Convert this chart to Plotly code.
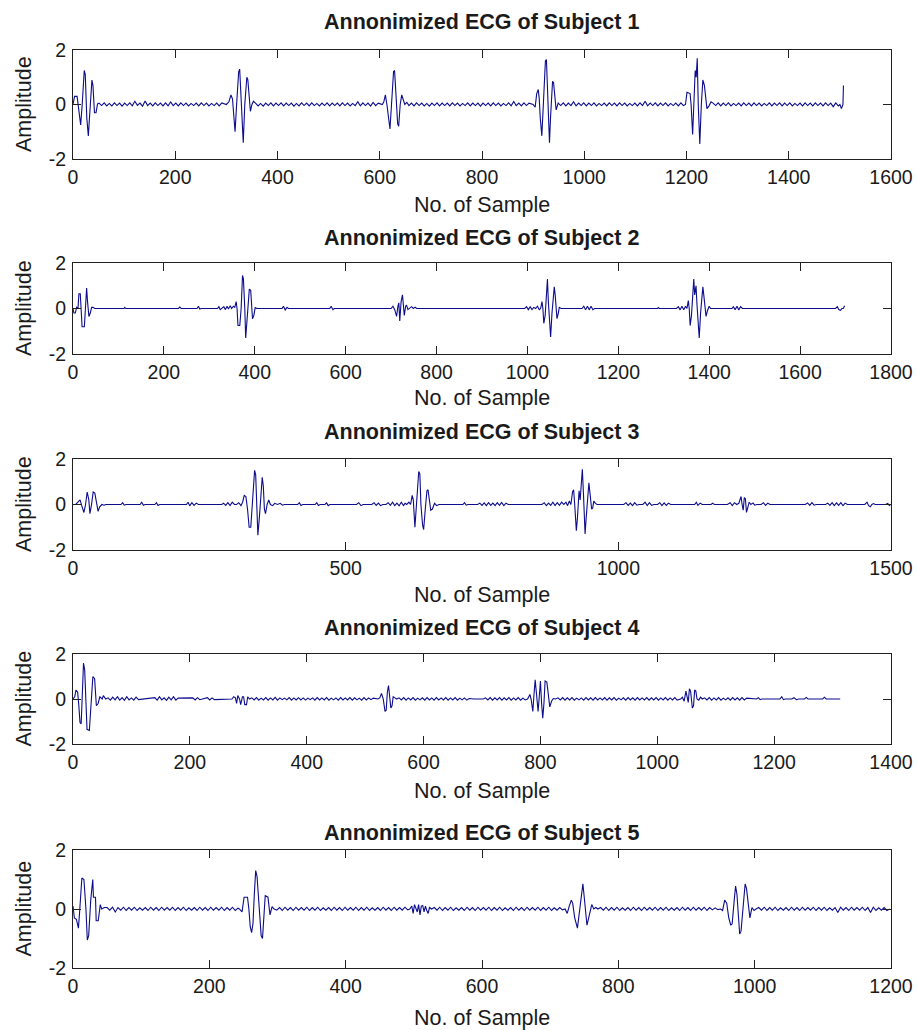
import plotly.graph_objects as go

# ---------------- data ----------------
subject_titles = [
    "Annonimized ECG of Subject 1",
    "Annonimized ECG of Subject 2",
    "Annonimized ECG of Subject 3",
    "Annonimized ECG of Subject 4",
    "Annonimized ECG of Subject 5",
]
x_limits = [1600, 1800, 1500, 1400, 1200]
x_tickvals = [
    [0, 200, 400, 600, 800, 1000, 1200, 1400, 1600],
    [0, 200, 400, 600, 800, 1000, 1200, 1400, 1600, 1800],
    [0, 500, 1000, 1500],
    [0, 200, 400, 600, 800, 1000, 1200, 1400],
    [0, 200, 400, 600, 800, 1000, 1200],
]
y_tickvals = [-2, 0, 2]
y_ticktext = ["-2", "0", "2"]

# Waveform vertices (sample, amplitude) for the beats and isolated deflections
s1_beats = [
    (0, 0.0), (3, 0.3), (8, 0.3), (11, -0.1), (15, -0.75), (18, 0.0), (22, 1.25), (24, 1.1),
    (27, -0.5), (30, -1.15), (33, -0.2), (37, 0.9), (39, 0.7), (42, -0.3), (45, -0.3), (48, 0.02),
    (300, 0.0), (305, 0.1), (309, 0.35), (312, 0.2), (315, -0.6), (317, -1.0), (320, 0.0), (324, 1.2),
    (326, 1.3), (329, 0.0), (331, -1.0), (333, -1.4), (336, 0.0), (340, 1.0), (342, 0.9), (345, 0.0),
    (347, -0.25), (350, 0.0), (353, 0.12),
    (605, 0.0), (608, 0.1), (611, 0.35), (614, 0.0), (618, -0.6), (620, -0.9), (623, 0.0), (627, 1.2),
    (629, 1.25), (632, 0.0), (635, -0.7), (637, -0.8), (640, 0.0), (643, 0.35), (646, 0.15), (649, 0.0),
    (653, 0.08),
    (900, 0.0), (904, -0.1), (907, 0.4), (910, 0.55), (912, 0.2), (914, -0.5), (917, -1.15), (920, 0.0),
    (924, 1.6), (926, 1.65), (929, 0.0), (932, -1.4), (934, -0.5), (938, 0.85), (940, 0.8), (943, 0.0),
    (945, -0.2),
    (1198, 0.0), (1201, 0.45), (1207, 0.4), (1209, 0.0), (1212, -1.1), (1214, 0.0), (1217, 1.25),
    (1219, 1.0), (1221, 1.7), (1223, 0.0), (1226, -1.45), (1229, 0.0), (1232, 0.9), (1235, 0.7),
    (1238, 0.0), (1240, -0.15), (1244, -0.05), (1248, 0.1),
    (1500, 0.0), (1503, -0.15), (1506, 0.0), (1507, 0.7),
]
# Baseline ripple: (first sample, sample spacing, amplitudes)
s1_ripple = [
    (51, 5, [0.05, -0.04, 0.06, -0.05, 0.04, -0.05, 0.06, -0.04, 0.05, -0.06,
             0.05, -0.04, 0.06, -0.05, 0.12, -0.03, 0.05, -0.06, 0.13, -0.04,
             0.05, -0.05, 0.06, -0.04, 0.05, -0.05, 0.06, -0.05, 0.09, -0.04,
             0.05, -0.05, 0.06, -0.04, 0.05, -0.05, 0.04, -0.04, 0.05, -0.05,
             0.06, -0.04, 0.05, -0.05, 0.04, -0.04, 0.05, -0.05, 0.06]),
    (357, 5, [0.05, -0.05, 0.04, -0.06, 0.05, -0.04, 0.06, -0.05, 0.05, -0.04,
              0.06, -0.05, 0.05, -0.04, 0.05, -0.06, 0.04, -0.05, 0.06, -0.04,
              0.05, -0.05, 0.06, -0.04, 0.04, -0.05, 0.05, -0.04, 0.06, -0.05,
              0.05, -0.04, 0.05, -0.05, 0.06, -0.04, 0.05, -0.05, 0.04, -0.04,
              0.10, -0.05, 0.06, -0.04, 0.05, -0.06, 0.08, -0.04, 0.05]),
    (657, 5, [-0.04, 0.05, -0.05, 0.06, -0.04, 0.05, -0.05, 0.04, -0.06, 0.05,
              -0.04, 0.06, -0.05, 0.05, -0.04, 0.05, -0.05, 0.06, -0.04, 0.05,
              -0.05, 0.04, -0.04, 0.06, -0.05, 0.05, -0.04, 0.05, -0.06, 0.05,
              -0.04, 0.05, -0.05, 0.06, -0.04, 0.05, -0.05, 0.04, -0.04, 0.06,
              -0.05, 0.11, -0.04, 0.05, -0.05, 0.06, -0.04, 0.05]),
    (949, 5, [0.05, -0.04, 0.06, -0.05, 0.05, -0.04, 0.10, -0.05, 0.05, -0.04,
              0.06, -0.05, 0.05, -0.04, 0.06, -0.05, 0.04, -0.04, 0.05, -0.05,
              0.06, -0.04, 0.05, -0.05, 0.06, -0.04, 0.05, -0.05, 0.04, -0.04,
              0.05, -0.05, 0.06, -0.04, 0.12, -0.05, 0.05, -0.04, 0.06, -0.05,
              0.05, -0.04, 0.06, -0.05, 0.04, -0.04, 0.05, -0.05, 0.06, -0.04]),
    (1252, 5, [0.05, -0.04, 0.06, -0.05, 0.05, -0.04, 0.06, -0.05, 0.04, -0.04,
               0.05, -0.05, 0.06, -0.04, 0.05, -0.05, 0.06, -0.04, 0.05, -0.05,
               0.04, -0.04, 0.06, -0.05, 0.05, -0.04, 0.06, -0.05, 0.05, -0.04,
               0.06, -0.05, 0.04, -0.04, 0.05, -0.05, 0.06, -0.04, 0.05, -0.05,
               0.06, -0.04, 0.05, -0.05, 0.06, -0.04, 0.05, -0.08, 0.06, -0.05]),
]

s2_beats = [
    (0, 0.0), (2, -0.2), (5, -0.2), (8, 0.05), (11, 0.0), (13, 0.65), (16, 0.65), (18, 0.0),
    (20, -0.8), (25, -0.8), (28, 0.0), (30, 0.9), (32, 0.3), (35, -0.35), (38, -0.2), (41, 0.05),
    (44, 0.05), (48, 0.0),
    (112, 0.0), (114, 0.05), (116, 0.0),
    (232, 0.0), (235, 0.06), (238, 0.0),
    (273, 0.0), (276, 0.1), (279, -0.02), (282, 0.0),
    (318, 0.0), (321, 0.08), (324, -0.05), (328, 0.0), (332, 0.08), (335, -0.05), (339, 0.1),
    (342, -0.02), (346, 0.12), (349, 0.0),
    (353, 0.1), (356, 0.05), (359, 0.3), (361, 0.0), (363, -0.75), (367, -0.75), (370, 0.0),
    (373, 1.45), (375, 1.3), (378, 0.0), (380, -1.3), (383, -0.5), (386, 0.5), (388, 0.85),
    (391, 0.8), (393, 0.0), (395, -0.45), (398, -0.3), (401, 0.05), (404, 0.0),
    (460, 0.0), (463, 0.1), (467, -0.06), (471, 0.05), (474, 0.0),
    (565, 0.0), (568, 0.1), (572, -0.05), (575, 0.0),
    (700, 0.0), (704, 0.1), (708, -0.05), (712, -0.35), (715, 0.1), (717, 0.25), (719, -0.55),
    (722, 0.3), (725, 0.6), (727, 0.1), (729, -0.3), (732, 0.1), (734, 0.15), (737, -0.05),
    (741, 0.0), (745, 0.08), (749, 0.0), (753, 0.06), (756, 0.0),
    (994, 0.0), (998, 0.08), (1002, -0.05), (1006, 0.08), (1010, -0.05), (1014, 0.05), (1018, 0.0),
    (1022, 0.1), (1026, -0.05), (1029, 0.0), (1032, 0.3), (1034, 0.0), (1036, -0.65), (1039, -0.3),
    (1041, 0.3), (1044, 1.3), (1046, 0.3), (1049, -0.8), (1051, -1.25), (1054, -0.2), (1057, 0.7),
    (1059, 0.95), (1061, 0.6), (1063, -0.1), (1065, -0.45), (1068, -0.2), (1070, 0.05), (1074, 0.0),
    (1120, 0.0), (1124, 0.1), (1128, -0.06), (1132, 0.1), (1136, -0.06), (1140, 0.1), (1144, -0.05),
    (1148, 0.0),
    (1286, 0.0), (1288, 0.04), (1290, 0.0),
    (1328, 0.0), (1332, 0.08), (1336, -0.06), (1340, 0.1), (1344, -0.05), (1348, 0.1), (1351, 0.0),
    (1354, 0.35), (1356, 0.0), (1358, -0.75), (1361, -0.3), (1364, 0.5), (1366, 1.3), (1368, 0.6),
    (1371, 1.0), (1373, 0.2), (1376, -0.9), (1378, -1.3), (1381, -0.2), (1384, 0.6), (1386, 0.95),
    (1388, 0.6), (1391, -0.2), (1393, -0.35), (1396, -0.1), (1400, 0.1), (1403, 0.0),
    (1450, 0.0), (1453, 0.08), (1457, -0.05), (1461, 0.1), (1465, -0.06), (1469, 0.08), (1473, 0.0),
    (1678, 0.0), (1682, 0.08), (1685, -0.05), (1689, -0.08), (1692, 0.0), (1695, 0.0), (1698, 0.12),
]
s2_ripple = []

s3_beats = [
    (0, 0.0), (5, 0.0), (9, 0.1), (13, 0.2), (16, -0.05), (20, -0.35), (23, 0.0), (26, 0.55),
    (29, 0.2), (31, -0.4), (34, 0.0), (37, 0.55), (40, 0.5), (43, 0.0), (46, -0.3), (49, -0.1),
    (53, 0.0), (57, -0.03), (60, 0.0),
    (88, 0.0), (91, 0.08), (94, -0.03), (97, 0.0),
    (123, 0.0), (126, 0.1), (129, -0.03), (132, 0.0),
    (150, 0.0), (153, 0.08), (156, -0.04), (159, 0.0),
    (208, 0.0), (211, 0.1), (214, -0.06), (218, 0.08), (222, -0.04), (226, 0.06), (230, 0.0),
    (273, 0.0), (276, 0.06), (280, -0.04), (284, 0.08), (288, -0.05), (292, 0.1), (296, 0.0),
    (300, 0.0), (304, 0.08), (308, -0.05), (311, 0.1), (314, 0.4), (317, 0.35), (320, -0.2),
    (323, -1.0), (326, -1.0), (329, 0.0), (333, 1.5), (335, 1.3), (337, 0.0), (339, -1.35),
    (342, -0.5), (345, 0.6), (347, 1.2), (349, 0.8), (351, -0.2), (353, -0.4), (356, 0.0),
    (359, 0.2), (362, 0.0), (366, -0.05), (370, 0.05), (375, 0.0),
    (380, 0.05), (384, -0.03), (388, 0.0),
    (412, 0.0), (415, 0.08), (418, -0.04), (421, 0.0),
    (444, 0.0), (447, 0.08), (450, -0.04), (453, 0.0),
    (462, 0.0), (465, 0.07), (468, -0.05), (471, 0.0),
    (520, 0.0), (524, 0.08), (528, -0.05), (532, 0.0),
    (548, 0.0), (552, 0.08), (556, -0.04), (560, 0.06), (564, -0.05), (568, 0.0),
    (574, 0.0), (578, 0.08), (582, -0.04), (586, 0.1), (590, -0.05), (594, 0.06), (598, -0.06),
    (602, 0.1), (606, -0.05), (609, 0.05),
    (612, 0.0), (616, 0.1), (619, 0.0), (622, 0.4), (624, 0.2), (627, -1.0), (629, -0.3),
    (632, 0.8), (634, 1.45), (636, 1.35), (638, 0.0), (641, -0.9), (643, -1.1), (646, -0.2),
    (649, 0.6), (651, 0.65), (653, 0.2), (656, -0.25), (659, -0.2), (663, 0.05), (667, -0.05),
    (671, 0.0),
    (715, 0.0), (718, 0.08), (721, -0.03), (724, 0.0),
    (742, 0.0), (746, 0.06), (750, -0.04), (754, 0.07), (758, -0.05), (762, 0.08), (766, -0.04),
    (770, 0.06), (774, -0.05), (778, 0.08), (782, -0.04), (786, 0.09), (790, -0.05), (794, 0.06),
    (798, 0.0),
    (860, 0.0), (864, 0.08), (868, -0.05), (872, 0.06), (876, -0.04), (880, 0.1), (884, -0.05),
    (888, 0.08), (892, -0.04), (896, 0.1),
    (900, 0.0), (904, 0.1), (907, -0.05), (910, 0.15), (913, 0.0), (916, 0.55), (918, 0.65),
    (920, 0.0), (923, -1.15), (925, -0.6), (928, 0.6), (930, 0.2), (932, 0.8), (934, 1.55),
    (936, 0.5), (939, -1.3), (941, -0.6), (944, 0.6), (946, 0.95), (948, 0.5), (951, -0.2),
    (953, -0.15), (955, 0.15), (958, 0.05), (961, 0.0),
    (1010, 0.0), (1014, 0.08), (1018, -0.04), (1022, 0.06), (1026, -0.05), (1030, 0.08),
    (1034, -0.03), (1038, 0.0), (1045, 0.0), (1049, 0.1), (1053, -0.05), (1057, 0.08),
    (1061, -0.04), (1065, 0.0), (1072, 0.0), (1076, 0.08), (1080, -0.05), (1084, 0.07),
    (1088, -0.04), (1092, 0.06), (1096, 0.0),
    (1140, 0.0), (1143, 0.1), (1146, -0.04), (1150, 0.06), (1154, 0.0),
    (1170, 0.0), (1173, 0.06), (1176, 0.0),
    (1200, 0.0), (1205, 0.08), (1209, -0.05), (1213, 0.08), (1217, 0.0), (1221, 0.05),
    (1225, 0.35), (1227, 0.0), (1229, -0.25), (1231, 0.3), (1233, 0.25), (1235, -0.35),
    (1237, -0.1), (1240, 0.1), (1243, 0.0), (1247, 0.07), (1250, -0.03), (1254, 0.0),
    (1262, 0.0), (1266, 0.08), (1270, -0.04), (1274, 0.06), (1278, 0.0),
    (1343, 0.0), (1347, 0.07), (1351, -0.04), (1355, 0.08), (1359, -0.03), (1363, 0.0),
    (1380, 0.0), (1384, 0.06), (1388, -0.04), (1392, 0.08), (1396, -0.05), (1400, 0.07),
    (1404, -0.04), (1408, 0.08), (1412, -0.05), (1416, 0.06), (1420, 0.0),
    (1452, 0.0), (1456, 0.1), (1459, -0.05), (1462, -0.1), (1465, 0.0), (1468, 0.04), (1471, 0.0),
    (1490, 0.0), (1494, 0.05), (1497, -0.04), (1499, 0.0),
]
s3_ripple = []

s4_beats = [
    (0, 0.0), (3, 0.1), (5, 0.4), (8, 0.3), (10, -0.3), (12, -1.05), (14, -1.1), (16, 0.5),
    (18, 1.6), (20, 1.3), (22, 0.0), (24, -1.35), (28, -1.4), (31, 0.0), (34, 1.0), (37, 0.9),
    (40, -0.3), (43, -0.2), (46, 0.1), (50, 0.0), (52, 0.15), (56, 0.0),
    (272, 0.0), (275, 0.1), (278, 0.05), (280, -0.2), (282, 0.15), (285, 0.0), (287, -0.25),
    (290, 0.1), (292, 0.1), (294, -0.25), (297, -0.25), (299, 0.1), (302, 0.0),
    (522, 0.0), (525, 0.05), (528, 0.25), (531, 0.0), (534, -0.55), (536, -0.5), (538, 0.3),
    (540, 0.6), (542, 0.1), (544, -0.4), (546, -0.3), (548, 0.1), (551, 0.05), (554, 0.0),
    (778, 0.0), (782, 0.2), (784, 0.0), (787, -0.55), (789, 0.2), (791, 0.85), (793, 0.3),
    (796, -0.55), (798, 0.1), (800, 0.8), (802, -0.2), (804, -0.85), (806, -0.2), (808, 0.8),
    (811, 0.75), (814, 0.0), (816, -0.35), (819, -0.1), (822, 0.02), (826, 0.0),
    (1040, 0.0), (1043, 0.08), (1046, -0.1), (1049, 0.35), (1051, 0.0), (1053, -0.15),
    (1055, 0.45), (1057, 0.35), (1060, -0.4), (1062, -0.3), (1064, 0.4), (1066, 0.35),
    (1068, 0.0), (1071, -0.05), (1074, 0.08), (1077, 0.0),
    (1170, 0.0), (1173, 0.06), (1176, -0.03), (1179, 0.0), (1210, 0.0), (1213, 0.1),
    (1216, -0.03), (1219, 0.0), (1230, 0.0), (1234, 0.06), (1238, -0.03), (1242, 0.0),
    (1252, 0.0), (1255, 0.07), (1258, 0.0), (1283, 0.0), (1286, 0.08), (1289, 0.0), (1313, 0.0),
]
s4_ripple = [
    (60, 4, [0.05, -0.05, 0.08, -0.04, 0.1, -0.05, 0.06, -0.06, 0.1, -0.04, 0.05, -0.05, 0.08, -0.03]),
    (140, 4, [0.06, -0.05, 0.1, -0.04, 0.05, -0.06, 0.08, -0.04, 0.1, -0.05, 0.04]),
    (205, 4, [0.05, -0.04, 0.06, -0.03]),
    (230, 4, [0.06, -0.04, 0.05, -0.03]),
    (306, 4, [0.05, -0.04, 0.06, -0.05, 0.04, -0.04, 0.06, -0.05, 0.05, -0.04,
              0.07, -0.05, 0.05, -0.03, 0.04, -0.04, 0.06, -0.05, 0.05, -0.04,
              0.06, -0.04, 0.05, -0.05, 0.04, -0.03, 0.05, -0.05, 0.06, -0.04,
              0.05, -0.04, 0.06, -0.05, 0.04, -0.04, 0.05, -0.05, 0.06, -0.04,
              0.05, -0.04, 0.06, -0.05, 0.05, -0.04, 0.04, -0.05, 0.06, -0.04,
              0.05, -0.03, 0.04]),
    (558, 4, [0.05, -0.04, 0.06, -0.05, 0.05, -0.04, 0.06, -0.05, 0.04, -0.04,
              0.05, -0.05, 0.06, -0.04, 0.05, -0.05, 0.06, -0.04, 0.05, -0.04,
              0.06, -0.05, 0.05, -0.04, 0.06, -0.05, 0.04, -0.04, 0.05, -0.05,
              0.02, 0.0, 0.0, 0.0, 0.0, 0.0, 0.0, 0.05, -0.04, 0.06,
              -0.05, 0.05, -0.04, 0.06, -0.05, 0.05, -0.04, 0.06, -0.05, 0.05,
              -0.04, 0.06, -0.05, 0.04, -0.04]),
    (830, 4, [0.05, -0.04, 0.06, -0.05, 0.05, -0.04, 0.06, -0.05, 0.04, -0.04,
              0.05, -0.05, 0.06, -0.04, 0.05, -0.05, 0.06, -0.04, 0.05, -0.04,
              0.06, -0.05, 0.05, -0.04, 0.06, -0.05, 0.04, -0.04, 0.05, -0.05,
              0.06, -0.04, 0.05, -0.05, 0.06, -0.04, 0.05, -0.04, 0.06, -0.05,
              0.05, -0.04, 0.06, -0.05, 0.05, -0.04, 0.06, -0.05, 0.05, -0.04,
              0.06, -0.05]),
    (1081, 4, [0.05, -0.04, 0.06, -0.05, 0.05, -0.04, 0.06, -0.05, 0.04, -0.04,
               0.05, -0.05, 0.06, -0.04, 0.05, -0.05, 0.06, -0.04, 0.04]),
]

s5_beats = [
    (0, 0.1), (2, -0.3), (5, -0.35), (8, -0.65), (10, 0.0), (13, 1.05), (16, 1.0), (19, 0.0),
    (21, -1.05), (23, -0.9), (26, 0.3), (29, 1.0), (30, 0.4), (33, 0.4), (34, -0.4), (37, -0.4),
    (40, 0.15), (42, 0.0), (46, 0.05),
    (244, 0.0), (248, -0.1), (251, 0.4), (256, 0.4), (258, 0.0), (260, -0.6), (262, -0.8),
    (264, -0.5), (266, 0.5), (268, 1.3), (270, 1.1), (273, 0.0), (276, -0.9), (278, -1.0),
    (280, -0.3), (282, 0.45), (286, 0.4), (288, 0.0), (289, -0.2), (292, 0.08), (295, 0.0),
    (494, 0.0), (497, 0.1), (499, -0.15), (501, 0.15), (503, 0.05), (505, -0.1), (507, 0.15),
    (509, -0.2), (511, 0.1), (513, 0.12), (515, -0.1), (517, 0.1), (519, -0.05), (521, -0.15),
    (523, 0.05), (526, 0.0),
    (722, 0.0), (725, -0.15), (728, 0.1), (731, 0.3), (733, 0.2), (736, -0.3), (740, -0.65),
    (742, -0.3), (745, 0.3), (748, 0.85), (750, 0.4), (752, -0.2), (754, -0.55), (756, -0.35),
    (758, -0.1), (761, 0.15), (764, 0.0), (767, 0.05), (770, 0.0),
    (950, 0.0), (953, -0.05), (956, 0.3), (959, 0.2), (962, -0.3), (965, -0.55), (967, -0.5),
    (970, 0.3), (972, 0.78), (974, 0.5), (976, -0.4), (978, -0.85), (980, -0.75), (983, 0.1),
    (986, 0.85), (988, 0.7), (990, 0.2), (993, -0.3), (996, 0.05), (999, -0.05), (1002, 0.0),
]
s5_ripple = [
    (50, 4, [0.05, -0.04, 0.06, -0.10, 0.05, -0.04, 0.06, -0.05, 0.05, -0.04,
             0.06, -0.05, 0.04, -0.04, 0.05, -0.05, 0.06, -0.04, 0.05, -0.05,
             0.06, -0.04, 0.05, -0.04, 0.06, -0.05, 0.05, -0.04, 0.06, -0.05,
             0.04, -0.04, 0.05, -0.05, 0.06, -0.04, 0.05, -0.05, 0.06, -0.04,
             0.05, -0.04, 0.06, -0.05, 0.05, -0.04, 0.06, -0.05, 0.03]),
    (299, 4, [-0.04, 0.05, -0.05, 0.06, -0.04, 0.05, -0.05, 0.06, -0.04, 0.05,
              -0.04, 0.06, -0.05, 0.05, -0.04, 0.06, -0.05, 0.04, -0.04, 0.05,
              -0.05, 0.06, -0.04, 0.05, -0.05, 0.06, -0.04, 0.05, -0.04, 0.06,
              -0.05, 0.05, -0.04, 0.06, -0.05, 0.04, -0.04, 0.05, -0.05, 0.06,
              -0.04, 0.05, -0.05, 0.06, -0.04, 0.05, -0.04, 0.06, -0.03]),
    (530, 4, [0.05, -0.04, 0.06, -0.05, 0.05, -0.04, 0.06, -0.05, 0.04, -0.04,
              0.05, -0.05, 0.06, -0.04, 0.05, -0.05, 0.06, -0.04, 0.05, -0.04,
              0.06, -0.05, 0.05, -0.04, 0.06, -0.05, 0.04, -0.04, 0.05, -0.05,
              0.06, -0.04, 0.05, -0.05, 0.06, -0.04, 0.05, -0.04, 0.06, -0.05,
              0.05, -0.04, 0.06, -0.05, 0.04, -0.04, 0.05, -0.03]),
    (774, 4, [0.05, -0.04, 0.06, -0.05, 0.05, -0.04, 0.06, -0.05, 0.04, -0.04,
              0.05, -0.05, 0.06, -0.04, 0.05, -0.05, 0.06, -0.04, 0.05, -0.04,
              0.06, -0.05, 0.05, -0.04, 0.06, -0.05, 0.04, -0.04, 0.05, -0.05,
              0.06, -0.04, 0.05, -0.05, 0.06, -0.04, 0.05, -0.04, 0.06, -0.05,
              0.05, -0.03, 0.04, -0.02]),
    (1006, 4, [0.05, -0.04, 0.06, -0.05, 0.05, -0.04, 0.06, -0.05, 0.04, -0.04,
               0.05, -0.05, 0.06, -0.04, 0.05, -0.05, 0.06, -0.04, 0.05, -0.04,
               0.06, -0.05, 0.05, -0.04, 0.06, -0.05, 0.04, -0.04, 0.05, -0.12,
               0.06, -0.04, 0.05, -0.05, 0.06, -0.04, 0.05, -0.04, 0.06, -0.05,
               0.05, -0.12, 0.06, -0.05, 0.04, -0.04, 0.05, -0.05, 0.0]),
]


def assemble(beats, ripple):
    pts = list(beats)
    for start, step, vals in ripple:
        pts.extend((start + step * i, v) for i, v in enumerate(vals))
    pts.sort(key=lambda p: p[0])
    return [p[0] for p in pts], [p[1] for p in pts]


signals = [
    assemble(s1_beats, s1_ripple),
    assemble(s2_beats, s2_ripple),
    assemble(s3_beats, s3_ripple),
    assemble(s4_beats, s4_ripple),
    assemble(s5_beats, s5_ripple),
]

# ---------------- layout (pixel geometry of the 918 x 1030 figure) ----------------
W, H = 918, 1030
PLOT_LEFT, PLOT_RIGHT = 73, 891
panel_px = [(50, 159), (263, 354), (459, 550), (654, 744), (850, 968)]
title_px = [22.5, 237.5, 432.5, 628, 832.5]
xlabel_px = [205, 398, 595, 791, 1018]

TEXT = "#1a1a1a"
AXIS = "#202020"
LINE = "#0c0c8c"
FONT = "Liberation Sans, Arial, Helvetica, sans-serif"


def py(px):
    return 1 - px / H


fig = go.Figure()
annotations = []
layout_axes = {}
for i, (xs, ys) in enumerate(signals):
    n = i + 1
    xa = "x" if n == 1 else f"x{n}"
    ya = "y" if n == 1 else f"y{n}"
    fig.add_trace(go.Scatter(
        x=xs, y=ys, mode="lines", xaxis=xa, yaxis=ya,
        line=dict(color=LINE, width=1.1), showlegend=False, hoverinfo="skip",
    ))
    top, bot = panel_px[i]
    common = dict(
        showline=True, linecolor=AXIS, linewidth=1, mirror="allticks",
        ticks="inside", ticklen=8, tickwidth=1, tickcolor=AXIS,
        showgrid=False, zeroline=False, automargin=False,
        tickfont=dict(family=FONT, size=19.5, color=TEXT),
    )
    layout_axes["xaxis" if n == 1 else f"xaxis{n}"] = dict(
        common, domain=[PLOT_LEFT / W, PLOT_RIGHT / W], range=[0, x_limits[i]],
        tickvals=x_tickvals[i], ticktext=[str(v) for v in x_tickvals[i]],
        anchor=ya, ticklabelstandoff=1,
    )
    layout_axes["yaxis" if n == 1 else f"yaxis{n}"] = dict(
        common, domain=[py(bot), py(top)], range=[-2, 2],
        tickvals=y_tickvals, ticktext=y_ticktext, anchor=xa, ticklabelstandoff=2,
    )
    cx = (PLOT_LEFT + PLOT_RIGHT) / 2 / W
    annotations.append(dict(
        text=f"<b>{subject_titles[i]}</b>", x=cx, y=py(title_px[i]),
        xref="paper", yref="paper", xanchor="center", yanchor="middle", showarrow=False,
        font=dict(family=FONT, size=21.5, color=TEXT),
    ))
    annotations.append(dict(
        text="No. of Sample", x=cx, y=py(xlabel_px[i]),
        xref="paper", yref="paper", xanchor="center", yanchor="middle", showarrow=False,
        font=dict(family=FONT, size=21.5, color=TEXT),
    ))
    annotations.append(dict(
        text="Amplitude", x=23.5 / W, y=py((top + bot) / 2), textangle=-90,
        xref="paper", yref="paper", xanchor="center", yanchor="middle", showarrow=False,
        font=dict(family=FONT, size=21.5, color=TEXT),
    ))

fig.update_layout(
    template="none",
    width=W, height=H, margin=dict(l=0, r=0, t=0, b=0, pad=0),
    paper_bgcolor="white", plot_bgcolor="white",
    annotations=annotations, **layout_axes,
)

fig.write_html("out.html")
